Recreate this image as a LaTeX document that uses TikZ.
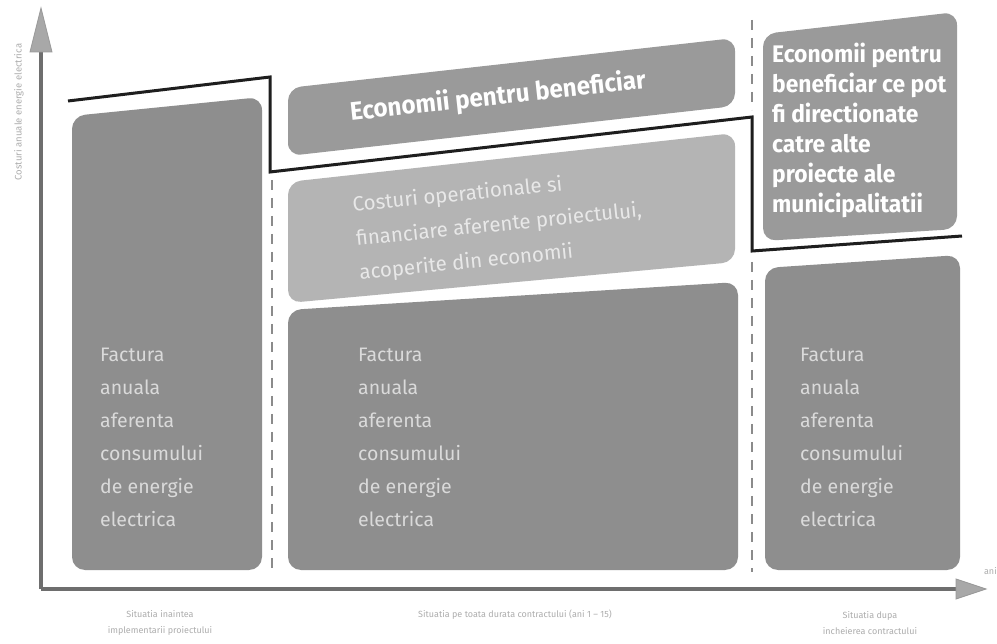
\documentclass[tikz,border=0pt]{standalone}
\usepackage{fontspec}
\setmainfont{Fira Sans}
\newfontfamily\condfont{Fira Sans}[FakeStretch=0.95]
\definecolor{factgray}{HTML}{8E8E8E}
\definecolor{costgray}{HTML}{B4B4B4}
\definecolor{ecogray}{HTML}{9A9A9A}
\definecolor{facttext}{HTML}{DADADA}
\definecolor{costtext}{HTML}{E8E8E8}
\definecolor{steplinecol}{HTML}{1E1E1E}
\definecolor{axiscol}{HTML}{6E6E6E}
\definecolor{headcol}{HTML}{A8A8A8}
\definecolor{labelcol}{HTML}{ADADAD}
\begin{document}
\begin{tikzpicture}[x=1pt,y=-1pt,
  panel/.style={rounded corners=13pt},
  factbox/.style={panel,fill=factgray},
  costbox/.style={panel,fill=costgray},
  ecobox/.style={panel,fill=ecogray},
  facttxt/.style={anchor=north west,align=left,text=facttext,font=\fontsize{19.5}{33}\selectfont,inner sep=0pt},
  costtxt/.style={anchor=west,align=left,text=costtext,font=\fontsize{20.5}{34}\selectfont,inner sep=0pt,rotate=5.8},
  ecotxt/.style={text=white,font=\condfont\bfseries\fontsize{24}{30}\selectfont,inner sep=0pt},
  stepline/.style={draw=steplinecol,line width=3pt},
  sepline/.style={draw=axiscol!80,line width=1.2pt,dash pattern=on 10pt off 8pt},
  axisline/.style={draw=axiscol,line width=4pt},
  axishead/.style={fill=headcol,draw=axiscol!70,line width=0.8pt},
  axlabel/.style={text=labelcol,font=\fontsize{9}{16}\selectfont,align=center,inner sep=0pt}
]
\useasboundingbox[fill=white] (0,0) rectangle (997,644);

% boxes
\path[factbox] (72,116) -- (262,97) -- (262,570) -- (72,570) -- cycle;
\path[ecobox] (288,88) -- (735,38) -- (735,106) -- (288,156) -- cycle;
\path[costbox] (288,182) -- (735,133) -- (735,262) -- (288,303) -- cycle;
\path[factbox] (288,310) -- (738,282) -- (738,570) -- (288,570) -- cycle;
\path[ecobox] (763,34) -- (957,12) -- (957,229) -- (763,241) -- cycle;
\path[factbox] (765,268) -- (960,255) -- (960,570) -- (765,570) -- cycle;

% separators
\coordinate (s1a) at (272,180);
\coordinate (s1b) at (272,572);
\coordinate (s2a) at (752,20);
\coordinate (s2b) at (752,110);
\coordinate (s2c) at (752,262);
\coordinate (s2d) at (752,572);
\draw[sepline] (s1a) -- (s1b);
\draw[sepline] (s2a) -- (s2b);
\draw[sepline] (s2c) -- (s2d);

% step line
\coordinate (p1) at (68,101);
\coordinate (p2) at (270,77);
\coordinate (p3) at (270,172);
\coordinate (p4) at (752,117);
\coordinate (p5) at (752,251);
\coordinate (p6) at (962,236);
\draw[stepline] (p1) -- (p2) -- (p3) -- (p4) -- (p5) -- (p6);

% axes
\coordinate (O) at (41,589);
\coordinate (ytop) at (41,50);
\coordinate (xend) at (958,589);
\draw[axisline] (O) -- (ytop);
\draw[axisline] (O) -- (xend);
\path[axishead] (30,52) -- (41,8) -- (52,52) -- cycle;
\path[axishead] (956,579) -- (986,589) -- (956,599) -- cycle;

% texts
\node[facttxt] (f1) at (100,348) {Factura\\anuala\\aferenta\\consumului\\de energie\\electrica};
\node[facttxt] (f2) at (358,348) {Factura\\anuala\\aferenta\\consumului\\de energie\\electrica};
\node[facttxt] (f3) at (800,348) {Factura\\anuala\\aferenta\\consumului\\de energie\\electrica};
\node[costtxt] (c1) at (356,240) {Costuri operationale si\\financiare aferente proiectului,\\acoperite din economii};
\node[ecotxt,rotate=6.2,font=\condfont\bfseries\fontsize{25.5}{30}\selectfont] (e1) at (498,97) {Economii pentru beneficiar};
\node[ecotxt,anchor=north west,align=left] (e2) at (772,43) {Economii pentru\\beneficiar ce pot\\fi directionate\\catre alte\\proiecte ale\\municipalitatii};

% axis labels
\node[axlabel] (l1) at (160,623) {Situatia inaintea\\implementarii proiectului};
\node[axlabel] (l2) at (515,615) {Situatia pe toata durata contractului (ani 1 -- 15)};
\node[axlabel] (l3) at (870,623) {Situatia dupa\\incheierea contractului};
\node[axlabel,anchor=east] (l4) at (997,571) {ani};
\node[axlabel,rotate=90,font=\fontsize{9.5}{16}\selectfont] (l5) at (19,112) {Costuri anuale energie electrica};
\end{tikzpicture}
\end{document}
